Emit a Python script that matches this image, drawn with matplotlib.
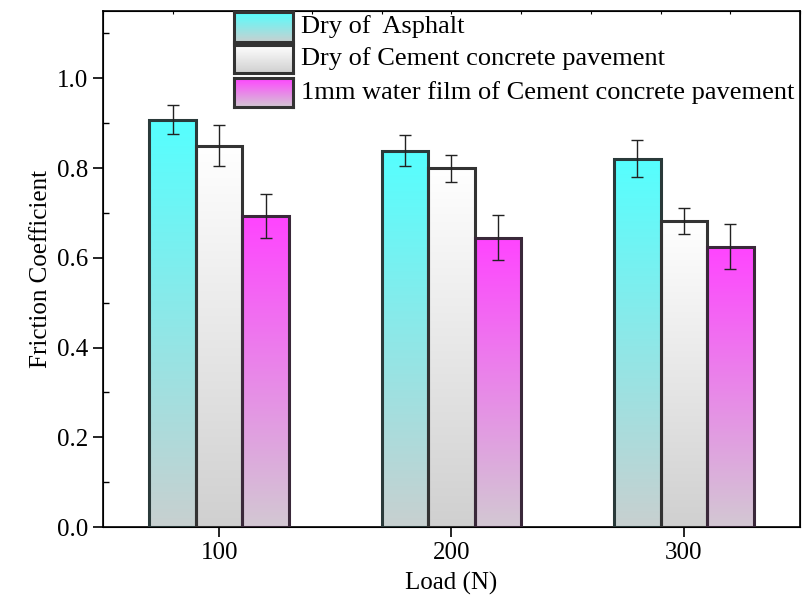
import numpy as np
import matplotlib
matplotlib.use("Agg")
import matplotlib.pyplot as plt
from matplotlib.colors import LinearSegmentedColormap
from matplotlib.ticker import MultipleLocator

plt.rcParams["font.family"] = ["Liberation Serif", "DejaVu Serif"]

# --- data ---
loads = [100, 200, 300]
series = ["Dry of  Asphalt",
          "Dry of Cement concrete pavement",
          "1mm water film of Cement concrete pavement"]
asphalt = [0.908, 0.839, 0.821]
asphalt_err = [0.033, 0.035, 0.041]
cement = [0.850, 0.799, 0.683]
cement_err = [0.045, 0.030, 0.029]
wet = [0.693, 0.645, 0.625]
wet_err = [0.050, 0.051, 0.050]

values = [asphalt, cement, wet]
errors = [asphalt_err, cement_err, wet_err]
top_colors = ["#55FFFF", "#FFFFFF", "#FF44FF"]
bottom_colors = ["#C8D0D0", "#D0D0D0", "#D3C8D3"]
edge_colors = ["#2A3A3A", "#333333", "#3A283A"]

W, H = 804, 601
fig = plt.figure(figsize=(W / 100, H / 100), dpi=100)
ax = fig.add_axes([103 / W, 1 - 527 / H, (800 - 103) / W, (527 - 11) / H])

width = 20
offsets = [-20, 0, 20]
grad = np.linspace(1, 0, 256).reshape(-1, 1)

for k in range(3):
    cmap = LinearSegmentedColormap.from_list(f"g{k}", [bottom_colors[k], top_colors[k]])
    xs = [x + offsets[k] for x in loads]
    bars = ax.bar(xs, values[k], width=width, facecolor="none",
                  edgecolor=edge_colors[k], linewidth=2.2, zorder=3)
    for b in bars:
        x0, h = b.get_x(), b.get_height()
        im = ax.imshow(grad, cmap=cmap, extent=(x0, x0 + width, 0, h),
                       aspect="auto", zorder=2, interpolation="bilinear")
        im.set_clip_path(b)
    ax.errorbar(xs, values[k], yerr=errors[k], fmt="none", ecolor="#222222",
                elinewidth=1.0, capsize=4, capthick=1.0, zorder=4)

ax.set_xlim(50, 350)
ax.set_ylim(0, 1.15)
ax.set_xticks(loads)
ax.yaxis.set_major_locator(MultipleLocator(0.2))
ax.yaxis.set_minor_locator(MultipleLocator(0.1))
ax.tick_params(axis="both", which="major", direction="out", length=7, width=1.2,
               labelsize=18)
ax.tick_params(axis="y", which="minor", direction="in", length=4, width=1.0)
ax.set_yticklabels([f"{v:.1f}" for v in ax.get_yticks()])
for s in ax.spines.values():
    s.set_linewidth(1.2)

ax.set_xlabel("Load (N)", fontsize=18, labelpad=6)
ax.set_ylabel("Friction Coefficient", fontsize=18, labelpad=4)

# tiny ticks along the top frame
top = ax.twiny()
top.set_xlim(0, 1)
top.set_xticks(np.linspace(0, 1, 11))
top.tick_params(axis="x", direction="in", length=2, width=0.8, labeltop=False)

# legend drawn by hand (gradient swatches)
rows = [(12, 42), (45, 73), (78, 107)]
for k, (y0, y1) in enumerate(rows):
    cmap = LinearSegmentedColormap.from_list(f"l{k}", [bottom_colors[k], top_colors[k]])
    sw = fig.add_axes([234 / W, 1 - y1 / H, (293 - 234) / W, (y1 - y0) / H])
    sw.imshow(grad, cmap=cmap, aspect="auto", interpolation="bilinear")
    sw.set_xticks([])
    sw.set_yticks([])
    for s in sw.spines.values():
        s.set_linewidth(2.2)
        s.set_edgecolor("#333333")
    fig.text(301 / W, 1 - (y0 + y1) / 2 / H, series[k], fontsize=19,
             va="center", ha="left")

fig.savefig("out.png", dpi=100)
